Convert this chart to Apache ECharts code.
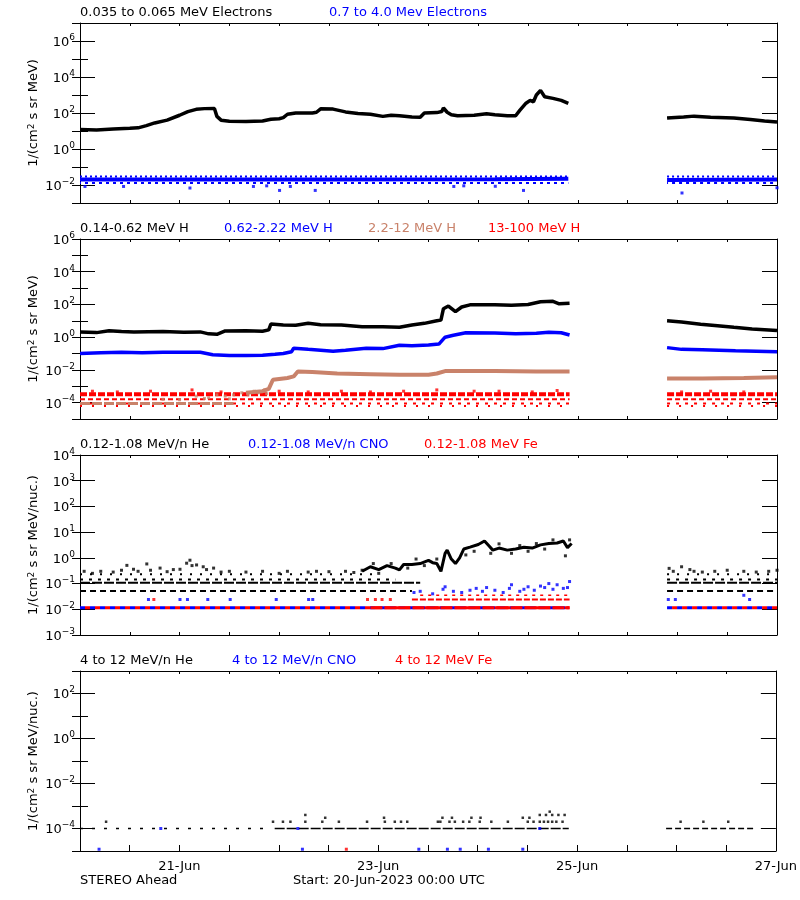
<!DOCTYPE html>
<html><head><meta charset="utf-8">
<script src="https://cdn.jsdelivr.net/npm/echarts@6/dist/echarts.min.js"></script>
<style>html,body{margin:0;padding:0;background:#fff}#c{width:800px;height:900px}</style>
</head><body><div id="c"></div>
<script>
// ---------- axis ticks / labels ----------
const xTickHours = [24, 72, 120, 168];
const xTickLabels = ['21-Jun', '23-Jun', '25-Jun', '27-Jun'];
const p1Major = [1e-2, 1, 1e2, 1e4, 1e6];
const p1Minor = [1e-3, 1e-2, 1e-1, 1, 1e1, 1e2, 1e3, 1e4, 1e5, 1e6, 1e7];
const p2Major = [1e-4, 1e-2, 1, 1e2, 1e4, 1e6];
const p2Minor = [1e-5, 1e-4, 1e-3, 1e-2, 1e-1, 1, 1e1, 1e2, 1e3, 1e4, 1e5, 1e6];
const p3Major = [1e-3, 1e-2, 1e-1, 1, 1e1, 1e2, 1e3, 1e4];
const p4Major = [1e-4, 1e-2, 1, 1e2];
const p4Minor = [1e-5, 1e-4, 1e-3, 1e-2, 1e-1, 1, 1e1, 1e2, 1e3];

// ---------- panel 1: electrons (hours since 20-Jun 00:00, flux) ----------
const eLowA = [[0,12],[4,11.5],[8,13],[12,14],[14,15],[16,20],[18,28],[21,40],[24,75],[26,120],[28,160],[30,175],[32.4,180],[33,65],[34,40],[36,35],[40,34],[44,36],[46,45],[48,48],[49,55],[50,85],[52,100],[56,100],[57,110],[58,170],[61,165],[64,115],[67,95],[70,85],[73,65],[75,75],[77,70],[80,60],[82,58],[83,100],[86,105],[87.2,120],[87.6,190],[88.5,110],[89.5,80],[91,70],[95,75],[98,90],[100,80],[103,70],[105,70],[106,140],[107.5,350],[108.5,500],[109.3,420],[110,1000],[111,1800],[112,800],[114,650],[116,500],[117.7,340]];
const eLowB = [[141.5,52],[145.5,60],[148,67],[152,58],[157.6,52],[161.6,43],[165,36],[168,32]];
const eHighA = [[0,0.02],[60,0.02],[100,0.021],[117.7,0.022]];
const eHighB = [[141.5,0.019],[168,0.02]];
const eHighUpper = 0.03, eHighLower = 0.013;
const eHighOutliers = [[1.2,0.0083],[10.5,0.0083],[26.5,0.0068],[41.8,0.0083],[45,0.009],[48.1,0.005],[50.7,0.0083],[56.7,0.005],[90.1,0.0083],[92.5,0.009],[100.1,0.0085],[106.9,0.005],[145.1,0.0036],[168,0.007]];

// ---------- panel 2: protons ----------
const hLowA = [[0,2.1],[4,1.9],[7,2.5],[10,2.2],[13,2.1],[20,2.2],[25,2.0],[29,2.1],[31,1.6],[33,1.5],[35,2.4],[40,2.5],[44,2.3],[45.5,2.8],[46,6.3],[49,5.6],[52,5.4],[55,7.0],[58,5.8],[63,5.5],[68,4.4],[73,4.4],[77,4.0],[80,5.5],[83,7.0],[86,10],[87,11],[87.6,55],[88.8,80],[90.5,36],[92,70],[94,95],[100,95],[104,90],[108,100],[111,145],[114,155],[115.5,110],[118,120]];
const hLowB = [[141.5,10],[145,8.5],[149.6,6.2],[153,5.2],[157.6,4.0],[162,3.2],[168,2.6]];
const hMidA = [[0,0.10],[5,0.11],[10,0.12],[15,0.11],[20,0.12],[29,0.12],[32,0.085],[36,0.075],[40,0.075],[44,0.08],[47,0.09],[49,0.10],[51,0.13],[51.5,0.21],[55,0.18],[61,0.14],[64,0.16],[69,0.21],[73,0.2],[77,0.32],[80,0.3],[84,0.33],[86.5,0.38],[88,1.0],[90,1.3],[93,1.85],[100,1.8],[105,1.6],[110,1.75],[113,2.0],[116,1.85],[118,1.35]];
const hMidB = [[141.5,0.23],[145,0.18],[150,0.17],[158,0.15],[163,0.14],[168,0.13]];
const hHighA = [[40,4e-4],[44,5e-4],[45.5,7e-4],[46.5,2.5e-3],[50,3.2e-3],[51.5,4e-3],[52.5,8e-3],[56,7.5e-3],[62,6e-3],[70,5.5e-3],[77,5e-3],[84,5e-3],[86,6e-3],[88,8.5e-3],[100,8.5e-3],[110,8e-3],[118,8e-3]];
const hHighB = [[141.5,3e-3],[150,3e-3],[160,3.2e-3],[168,3.5e-3]];
const hHighEarlyLevel = 9e-5;
const hHighEarlyRanges = [[0,37]];
const hHighEarlyDots = [[20,1.6e-4],[24,1.5e-4],[28,2.5e-4],[30,1.8e-4],[31,2e-4],[33,3e-4],[35,2.5e-4],[36,1.7e-4],[37,3e-4],[39,4e-4],[40.5,3e-4],[42,5e-4],[43,4e-4],[44.5,6e-4],[45,3.5e-4]];
const hVHighLevels = [3.2e-4, 1.6e-4, 9e-5, 6.3e-5];
const hVHighRanges = [[0,118],[141.5,168]];
const hVHighUpDots = [[3,5e-4],[9,4.5e-4],[17,5e-4],[27,6e-4],[34,4.5e-4],[48,5e-4],[55,4.5e-4],[63,5e-4],[70,4.5e-4],[78,5e-4],[86,6e-4],[95,5e-4],[101,5e-4],[109,4.5e-4],[115,5.5e-4],[145,4.5e-4],[152,5e-4],[160,4.5e-4]];

// ---------- panel 3: 0.12-1.08 MeV/n ions ----------
const heRowLevels = [0.051, 0.107, 0.145, 0.23];
const heRowRangesA = [[0,80],[0,82],[0,76],[0,72]];
const heRowRangesB = [141.5, 168];
const heEarlyDots = [[1,0.3],[3,0.25],[5,0.3],[8,0.28],[10,0.33],[11.3,0.51],[12.9,0.36],[14,0.3],[16.1,0.58],[17,0.33],[19.3,0.4],[21,0.29],[22.5,0.35],[24.1,0.36],[25.7,0.62],[26.5,0.81],[27,0.5],[28.1,0.53],[29.7,0.45],[30.5,0.35],[32.2,0.4],[34,0.28],[36,0.3],[40,0.28],[44,0.3],[48,0.25],[50,0.3],[55,0.28],[57,0.3],[60,0.29],[64,0.3],[66,0.27],[68,0.33],[70.7,0.6],[142,0.39],[143,0.3],[145,0.45],[147,0.35],[148,0.3],[150,0.28],[153,0.3],[156,0.33],[160,0.3],[163,0.28],[166,0.3],[168,0.33]];
const heRise = [[68,0.3],[70,0.45],[72,0.35],[74,0.5],[76,0.4],[77,0.34],[78,0.55],[80,0.55],[82,0.6],[84,0.8],[85,0.65],[86,0.6],[87,0.3],[88,1.5],[88.5,2.0],[89.5,0.9],[90.5,0.6],[91.5,1.0],[92.5,2.2],[94,2.6],[96,3.3],[97.5,4.5],[98.5,3.0],[99.5,2.0],[101,2.4],[103,2.0],[105,2.2],[107,2.6],[109,2.4],[111,3.2],[113,3.6],[115,3.8],[116.5,4.5],[117.5,2.5],[118.5,3.6]];
const heRiseDots = [[72,0.25],[75,0.6],[79,0.4],[81,0.9],[83,0.5],[86,0.9],[93,1.3],[95,1.8],[99,1.5],[101,3.5],[104,1.5],[106,3.0],[108,1.8],[110,3.6],[112,2.2],[114,5],[117,1.2],[118,5]];
const ionLowLevel = 0.0115;
const ionRanges = [[0,118],[141.5,168]];
const feDenseRange = [70, 118];
const cnoMidDots = [[16.5,0.024],[24.1,0.024],[25.9,0.024],[30.8,0.024],[36.2,0.024],[47.3,0.024],[55.1,0.024],[56.1,0.024],[141.8,0.024],[143.5,0.024],[161.4,0.024]];
const feMidDots = [[17.8,0.024],[69.3,0.024],[71.2,0.024],[72.8,0.024],[74.8,0.024]];
const feMidLevel = 0.024;
const feMidRange = [80, 118];
const feHighLevel = 0.035;
const feHighRange = [82, 118];
const cnoHighDots = [[80.5,0.045],[82,0.05],[85,0.04],[87.5,0.06],[88,0.075],[90,0.05],[92,0.045],[94,0.055],[95.5,0.065],[97,0.05],[98,0.07],[100,0.055],[102,0.045],[103.5,0.065],[104,0.09],[106,0.05],[107,0.06],[108,0.075],[109.5,0.055],[111,0.08],[112,0.07],[113,0.1],[114,0.06],[115,0.09],[116.5,0.065],[117.5,0.07],[118,0.12],[160,0.035]];

// ---------- panel 4: 4-12 MeV/n ions ----------
const he4Level = 1e-4;
const he4SparseRange = [0, 45];
const he4DenseRange = [47, 118];
const he4LateRange = [141.5, 163];
const he4Dots = [[6.3,2e-4],[46.6,2e-4],[49,2e-4],[50.8,2e-4],[54.4,2e-4],[58.5,2e-4],[62.5,2e-4],[69.3,2e-4],[73.6,2e-4],[76,2e-4],[77.5,2e-4],[79,2e-4],[86.4,2e-4],[87,2e-4],[89.2,2e-4],[90.5,2e-4],[92.5,2e-4],[94,2e-4],[96.5,2e-4],[99.3,2e-4],[103.3,2e-4],[108.1,2e-4],[109.5,2e-4],[111,2e-4],[112,2e-4],[113,2e-4],[114,2e-4],[115,2e-4],[116.5,2e-4],[145,2e-4],[150.5,2e-4],[156.5,2e-4],[59.2,3e-4],[73.4,3e-4],[87.5,3e-4],[89.8,3e-4],[94.5,3e-4],[96.7,3e-4],[106.9,3e-4],[108.5,3e-4],[54.4,4e-4],[111,4e-4],[112.5,4e-4],[114,4e-4],[115.5,4e-4],[117,4e-4],[113.4,5.6e-4]];
const cno4Dots = [[4.6,1.2e-5],[53.7,1.2e-5],[81.8,1.2e-5],[88.7,1.2e-5],[91.8,1.2e-5],[98.6,1.2e-5],[106.9,1.2e-5],[19.5,1e-4],[52.6,1e-4],[111,1e-4]];
const fe4Dots = [[64.3,1.2e-5]];

// ---------- build ----------
const F = 'DejaVu Sans';
const BLACK = '#000000', BLUE = '#0000ff', RED = '#ff0000', TAN = '#c9826a';
const GL = 80, GW = 697, GH = 180;
const panels = [
  {top: 23, min: 1e-3, max: 1e7, major: p1Major, minor: p1Minor, name: '1/(cm{s|2} s sr MeV)'},
  {top: 239, min: 1e-5, max: 1e6, major: p2Major, minor: p2Minor, name: '1/(cm{s|2} s sr MeV)'},
  {top: 455, min: 1e-3, max: 1e4, major: p3Major, minor: p3Major, name: '1/(cm{s|2} s sr MeV/nuc.)'},
  {top: 671, min: 1e-5, max: 1e3, major: p4Major, minor: p4Minor, name: '1/(cm{s|2} s sr MeV/nuc.)'}
];
function expLabel(v) {
  const e = Math.round(Math.log10(v));
  return '{b|10}{s|' + (e < 0 ? '\u2212' + (-e) : e) + '}';
}
const grid = [], xAxis = [], yAxis = [];
panels.forEach((p, i) => {
  grid.push({left: GL, top: p.top, width: GW, height: GH, containLabel: false});
  const last = i === panels.length - 1;
  xAxis.push({type: 'value', gridIndex: i, position: 'bottom', min: 0, max: 168, interval: 12,
    axisLine: {show: true, onZero: false, lineStyle: {color: '#000', width: 1}},
    axisTick: {show: true, inside: true, length: last ? 6 : 3, lineStyle: {color: '#000'}},
    axisLabel: {show: last, customValues: xTickHours, margin: 9, color: '#000', fontFamily: F, fontSize: 13,
      formatter: v => xTickLabels[xTickHours.indexOf(Math.round(v))] || ''},
    splitLine: {show: false}});
  xAxis.push({type: 'value', gridIndex: i, position: 'top', min: 0, max: 168, interval: 12,
    axisLine: {show: true, onZero: false, lineStyle: {color: '#000', width: 1}},
    axisTick: {show: true, inside: true, length: 3, lineStyle: {color: '#000'}},
    axisLabel: {show: false}, splitLine: {show: false}});
  ['left', 'right'].forEach(side => {
    yAxis.push({type: 'log', logBase: 10, gridIndex: i, position: side, min: p.min, max: p.max,
      axisLine: {show: true, onZero: false, lineStyle: {color: '#000', width: 1}},
      axisTick: {show: true, inside: true, length: 15, customValues: p.major, lineStyle: {color: '#000'}},
      axisLabel: {show: side === 'left', customValues: p.major, margin: 5, showMinLabel: true, showMaxLabel: true,
        formatter: expLabel,
        rich: {b: {fontFamily: F, fontSize: 13, color: '#000', lineHeight: 16, verticalAlign: 'bottom'},
               s: {fontFamily: F, fontSize: 9, color: '#000', lineHeight: 9, verticalAlign: 'top'}}},
      splitLine: {show: false},
      name: side === 'left' ? p.name : '', nameLocation: 'middle', nameGap: 40, nameRotate: 90,
      nameMoveOverlap: false,
      nameTextStyle: {fontFamily: F, fontSize: 13, color: '#000',
        rich: {s: {fontFamily: F, fontSize: 9, color: '#000', verticalAlign: 'top', lineHeight: 9}}}});
    yAxis.push({type: 'log', logBase: 10, gridIndex: i, position: side, min: p.min, max: p.max,
      axisLine: {show: false},
      axisTick: {show: true, inside: true, length: 8, customValues: p.minor, lineStyle: {color: '#000'}},
      axisLabel: {show: false}, splitLine: {show: false}});
  });
});
// yAxis order per grid: 4i left major, 4i+1 left minor, 4i+2 right major, 4i+3 right minor
function join(a, b) { return a.concat([[(a[a.length - 1][0] + b[0][0]) / 2, null]], b); }
function rows(level, ranges) {
  const out = [];
  ranges.forEach(r => { out.push([r[0], level], [r[1], level], [r[1], null]); });
  return out;
}
function line(gi, data, color, width, dash, z, offset) {
  return {type: 'line', xAxisIndex: 2 * gi, yAxisIndex: 4 * gi, data: data, symbol: 'none', showSymbol: false,
    connectNulls: false, animation: false, silent: true, z: z || 2,
    lineStyle: {color: color, width: width, type: dash || 'solid', dashOffset: offset || 0, cap: 'butt'}};
}
function dots(gi, data, color, size, z) {
  return {type: 'scatter', xAxisIndex: 2 * gi, yAxisIndex: 4 * gi, data: data, symbol: 'rect',
    symbolSize: size || 3, itemStyle: {color: color}, animation: false, silent: true, z: z || 3};
}
const series = [];
// panel 1
const eHighRanges = [[0,117.7],[141.5,168]];
series.push(line(0, join(eHighA, eHighB), BLUE, 4));
series.push(line(0, rows(eHighUpper, eHighRanges), BLUE, 2, [2, 3]));
series.push(line(0, rows(eHighLower, eHighRanges), BLUE, 2, [3, 4], 2, 2));
series.push(dots(0, eHighOutliers, BLUE, 3));
series.push(line(0, join(eLowA, eLowB), BLACK, 3.5, 'solid', 4));
// panel 2
series.push(line(1, rows(hVHighLevels[0], hVHighRanges), RED, 4, [7, 2]));
series.push(line(1, rows(hVHighLevels[1], hVHighRanges), RED, 2, [5, 3]));
series.push(line(1, rows(hVHighLevels[2], hVHighRanges), RED, 2, [3, 6]));
series.push(line(1, rows(hVHighLevels[3], hVHighRanges), RED, 2, [2, 10]));
series.push(dots(1, hVHighUpDots, RED, 3));
series.push(line(1, rows(hHighEarlyLevel, hHighEarlyRanges), TAN, 3, [10, 2], 3));
series.push(dots(1, hHighEarlyDots, TAN, 3, 3));
series.push(line(1, join(hHighA, hHighB), TAN, 4, 'solid', 3));
series.push(line(1, join(hMidA, hMidB), BLUE, 3.5, 'solid', 4));
series.push(line(1, join(hLowA, hLowB), BLACK, 3.5, 'solid', 5));
// panel 3
series.push(line(2, rows(ionLowLevel, ionRanges), BLUE, 3, [5, 5], 2, 0));
series.push(line(2, rows(ionLowLevel, ionRanges), RED, 3, [5, 5], 2, 5));
series.push(line(2, rows(ionLowLevel, [feDenseRange]), RED, 3, [12, 2], 3));
series.push(line(2, rows(feMidLevel, [feMidRange]), RED, 2, [6, 2], 3));
series.push(dots(2, cnoMidDots, BLUE, 3));
series.push(dots(2, feMidDots, RED, 3));
series.push(line(2, rows(feHighLevel, [feHighRange]), RED, 1.5, [3, 5], 3));
series.push(dots(2, cnoHighDots, BLUE, 3));
const heDash = [[6, 4], [10, 2], [3, 6], [2, 8]];
heRowLevels.forEach((lv, k) => {
  series.push(line(2, rows(lv, [heRowRangesA[k], heRowRangesB]), BLACK, 2, heDash[k], 4));
});
series.push(dots(2, heEarlyDots, BLACK, 3, 4));
series.push(line(2, heRise, BLACK, 3, 'solid', 5));
series.push(dots(2, heRiseDots, BLACK, 3, 5));
// panel 4
series.push(line(3, rows(he4Level, [he4SparseRange]), BLACK, 1.5, [3, 9], 4));
series.push(line(3, rows(he4Level, [he4DenseRange]), BLACK, 1.5, [10, 2], 4));
series.push(line(3, rows(he4Level, [he4LateRange]), BLACK, 1.5, [6, 3], 4));
series.push(dots(3, he4Dots, BLACK, 2.5, 4));
series.push(dots(3, cno4Dots, BLUE, 3, 5));
series.push(dots(3, fe4Dots, RED, 3, 5));

const titles = [
  [80, 13, '0.035 to 0.065 MeV Electrons', BLACK], [329, 13, '0.7 to 4.0 Mev Electrons', BLUE],
  [80, 229, '0.14-0.62 MeV H', BLACK], [224, 229, '0.62-2.22 MeV H', BLUE], [368, 229, '2.2-12 MeV H', TAN], [488, 229, '13-100 MeV H', RED],
  [80, 445, '0.12-1.08 MeV/n He', BLACK], [248, 445, '0.12-1.08 MeV/n CNO', BLUE], [424, 445, '0.12-1.08 MeV Fe', RED],
  [80, 661, '4 to 12 MeV/n He', BLACK], [232, 661, '4 to 12 MeV/n CNO', BLUE], [395, 661, '4 to 12 MeV Fe', RED],
  [80, 881, 'STEREO Ahead', BLACK], [293, 881, 'Start: 20-Jun-2023 00:00 UTC', BLACK]
];
const graphic = titles.map(t => ({type: 'text', x: t[0], y: t[1], silent: true,
  style: {text: t[2], fill: t[3], font: '13px "' + F + '"', verticalAlign: 'middle', align: 'left'}}));

const chart = echarts.init(document.getElementById('c'), null, {renderer: 'canvas'});
chart.setOption({animation: false, backgroundColor: '#fff', grid, xAxis, yAxis, series, graphic});
</script></body></html>
